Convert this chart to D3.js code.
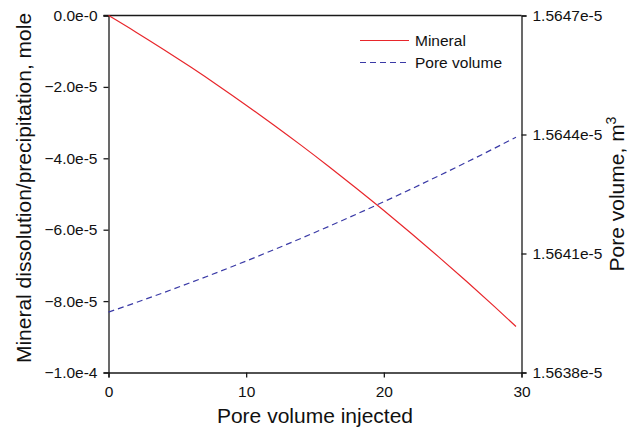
<!DOCTYPE html>
<html>
<head>
<meta charset="utf-8">
<script src="https://cdn.jsdelivr.net/npm/d3@7"></script>
<style>
  html, body { margin: 0; padding: 0; background: #fff; }
  svg { display: block; font-family: "Liberation Sans", Arial, sans-serif; }
</style>
</head>
<body>
<svg id="chart" width="628" height="429"></svg>
<script>
// Pore volumes injected (x)
const injected = [0, 2, 4, 6, 8, 10, 12, 14, 16, 18, 20, 22, 24, 26, 28, 29.6];
// Cumulative mineral dissolution/precipitation, mole (left axis)
const mineral = [0, -0.467e-5, -0.951e-5, -1.453e-5, -1.973e-5, -2.511e-5, -3.066e-5,
  -3.638e-5, -4.229e-5, -4.837e-5, -5.462e-5, -6.106e-5, -6.767e-5, -7.445e-5,
  -8.142e-5, -8.711e-5];
// Pore volume, m^3 (right axis)
const poreVolume = [1.5639522e-5, 1.5639764e-5, 1.5640013e-5, 1.5640271e-5, 1.5640537e-5,
  1.5640811e-5, 1.5641094e-5, 1.5641384e-5, 1.5641683e-5, 1.5641990e-5, 1.5642305e-5,
  1.5642628e-5, 1.5642960e-5, 1.5643299e-5, 1.5643647e-5, 1.5643931e-5];

const xTicks = [0, 10, 20, 30];
const leftTicks = [0, -2e-5, -4e-5, -6e-5, -8e-5, -1e-4];
const leftTickLabels = ["0.0e-0", "\u22122.0e-5", "\u22124.0e-5", "\u22126.0e-5", "\u22128.0e-5", "\u22121.0e-4"];
const rightTicks = [1.5638e-5, 1.5641e-5, 1.5644e-5, 1.5647e-5];
const rightTickLabels = ["1.5638e-5", "1.5641e-5", "1.5644e-5", "1.5647e-5"];
const seriesNames = ["Mineral", "Pore volume"];

const plot = { left: 108.5, right: 521.5, top: 15.5, bottom: 372.5 };
const svg = d3.select("#chart");

const x = d3.scaleLinear().domain([0, 30]).range([plot.left, plot.right]);
const yL = d3.scaleLinear().domain([-1e-4, 0]).range([plot.bottom, plot.top]);
const yR = d3.scaleLinear().domain([1.5638e-5, 1.5647e-5]).range([plot.bottom, plot.top]);

const axisColor = "#1a1a1a";
const tickFont = 15.5;

function styleAxis(g) {
  g.selectAll("path.domain").attr("stroke", axisColor).attr("stroke-width", 1.3);
  g.selectAll(".tick line").attr("stroke", axisColor).attr("stroke-width", 1.3);
  g.selectAll(".tick text").attr("fill", "#111").style("font-size", tickFont + "px")
    .style("font-family", "Liberation Sans, Arial, sans-serif");
}

// Top frame line
svg.append("line")
  .attr("x1", plot.left - 5).attr("x2", plot.right)
  .attr("y1", plot.top).attr("y2", plot.top)
  .attr("stroke", axisColor).attr("stroke-width", 1.3);

// Bottom axis
svg.append("g")
  .attr("transform", `translate(0,${plot.bottom})`)
  .call(d3.axisBottom(x).tickValues(xTicks).tickSizeOuter(0).tickSize(5).tickPadding(8)
    .tickFormat(d3.format("d")))
  .call(styleAxis);

// Left axis
svg.append("g")
  .attr("transform", `translate(${plot.left},0)`)
  .call(d3.axisLeft(yL).tickValues(leftTicks).tickSizeOuter(0).tickSize(5).tickPadding(6)
    .tickFormat((d, i) => leftTickLabels[i]))
  .call(styleAxis);

// Right axis
svg.append("g")
  .attr("transform", `translate(${plot.right},0)`)
  .call(d3.axisRight(yR).tickValues(rightTicks).tickSizeOuter(0).tickSize(5).tickPadding(6)
    .tickFormat((d, i) => rightTickLabels[i]))
  .call(styleAxis);

// Series lines
const mineralLine = d3.line().x((d, i) => x(injected[i])).y(d => yL(d)).curve(d3.curveMonotoneX);
const poreLine = d3.line().x((d, i) => x(injected[i])).y(d => yR(d)).curve(d3.curveMonotoneX);

const red = "#e8262b";
const blue = "#3a3aa6";

svg.append("path").datum(mineral)
  .attr("d", mineralLine).attr("fill", "none")
  .attr("stroke", red).attr("stroke-width", 1.2);

svg.append("path").datum(poreVolume)
  .attr("d", poreLine).attr("fill", "none")
  .attr("stroke", blue).attr("stroke-width", 1.2)
  .attr("stroke-dasharray", "6,4");

// Legend
const legend = svg.append("g").attr("transform", "translate(360,0)");
const legendRows = [
  { name: seriesNames[0], color: red, dash: null, y: 40.5 },
  { name: seriesNames[1], color: blue, dash: "6,4", y: 62.5 }
];
legendRows.forEach(r => {
  legend.append("line")
    .attr("x1", 0).attr("x2", 49).attr("y1", r.y).attr("y2", r.y)
    .attr("stroke", r.color).attr("stroke-width", 1.2)
    .attr("stroke-dasharray", r.dash);
  legend.append("text")
    .attr("x", 55).attr("y", r.y + 5.5)
    .attr("fill", "#111")
    .style("font-size", "15.5px")
    .text(r.name);
});

// Axis titles
svg.append("text")
  .attr("x", (plot.left + plot.right) / 2).attr("y", 423)
  .attr("text-anchor", "middle").attr("fill", "#111")
  .style("font-size", "21px")
  .text("Pore volume injected");

svg.append("text")
  .attr("transform", `translate(31,${(plot.top + plot.bottom) / 2 - 6}) rotate(-90)`)
  .attr("text-anchor", "middle").attr("fill", "#111")
  .style("font-size", "21px")
  .text("Mineral dissolution/precipitation, mole");

const rightTitle = svg.append("text")
  .attr("transform", `translate(624,${(plot.top + plot.bottom) / 2}) rotate(-90)`)
  .attr("text-anchor", "middle").attr("fill", "#111")
  .style("font-size", "21px");
rightTitle.append("tspan").text("Pore volume, m");
rightTitle.append("tspan").attr("dy", "-0.55em").style("font-size", "14px").text("3");
</script>
</body>
</html>
